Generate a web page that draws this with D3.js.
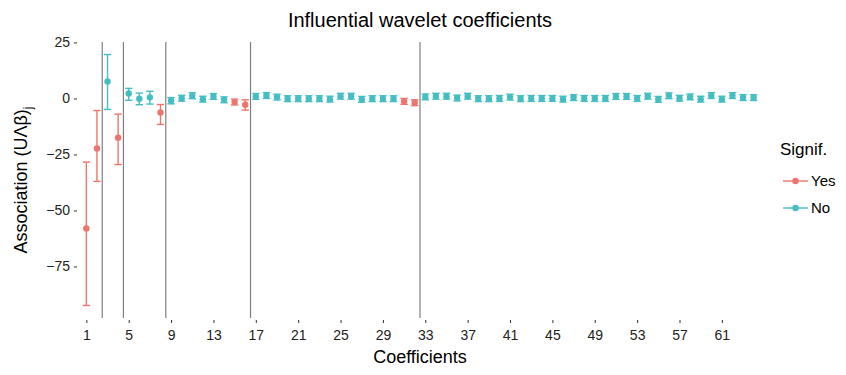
<!DOCTYPE html>
<html>
<head>
<meta charset="utf-8">
<script src="https://cdn.jsdelivr.net/npm/d3@7"></script>
<style>
  body { margin: 0; background: #fff; }
  text { font-family: "Liberation Sans", Arial, sans-serif; }
</style>
</head>
<body>
<script>
// coefficient index 1..64
const coefs = d3.range(1, 65)
const estimates = [
  -58, -22.3, 7.6, -17.5, 2.2, -0.1, 0.5, -6.3,
  -1.0, 0.1, 1.2, -0.3, 0.9, -0.6, -1.6, -2.8,
  0.9, 1.3, 0.6, -0.1, -0.1, -0.1, -0.1, -0.3, 1.0, 1.0, -0.4, -0.1, -0.1, -0.1, -1.3, -1.9,
  0.7, 1.0, 1.0, 0.2, 1.0, -0.1, -0.1, 0.0, 0.6, -0.1, 0.0, 0.0, 0.0, -0.3, 0.4, 0.0,
  0.0, 0.0, 0.9, 0.9, 0.0, 1.0, -0.4, 1.2, 0.1, 0.7, -0.3, 1.3, -0.3, 1.3, 0.4, 0.4
]
const lower = [
  -92.4, -37, -4.9, -29.5, -0.8, -2.8, -2.5, -11.6,
  -2.4, -1.2, -0.1, -1.6, -0.4, -1.9, -2.9, -5.2,
  -0.4, 0.0, -0.7, -1.4, -1.4, -1.4, -1.4, -1.6, -0.3, -0.3, -1.7, -1.4, -1.4, -1.4, -2.6, -3.2,
  -0.6, -0.3, -0.3, -1.1, -0.3, -1.4, -1.4, -1.3, -0.7, -1.4, -1.3, -1.3, -1.3, -1.6, -0.9, -1.3,
  -1.3, -1.3, -0.4, -0.4, -1.3, -0.3, -1.7, -0.1, -1.2, -0.6, -1.6, 0.0, -1.6, 0.0, -0.9, -0.9
]
const upper = [
  -28.4, -5.4, 19.6, -7, 4.5, 2.4, 3.2, -2.7,
  0.4, 1.4, 2.5, 1.0, 2.2, 0.7, -0.3, -0.6,
  2.2, 2.6, 1.9, 1.2, 1.2, 1.2, 1.2, 1.0, 2.3, 2.3, 0.9, 1.2, 1.2, 1.2, 0.0, -0.6,
  2.0, 2.3, 2.3, 1.5, 2.3, 1.2, 1.2, 1.3, 1.9, 1.2, 1.3, 1.3, 1.3, 1.0, 1.7, 1.3,
  1.3, 1.3, 2.2, 2.2, 1.3, 2.3, 0.9, 2.5, 1.4, 2.0, 1.0, 2.6, 1.0, 2.6, 1.7, 1.7
]
const signifCoefs = [1, 2, 4, 8, 15, 16, 31, 32]
const levelBreaks = [2.5, 4.5, 8.5, 16.5, 32.5]
const xTicks = d3.range(1, 65, 4)
const yTicks = [25, 0, -25, -50, -75]

const colors = { Yes: '#ee756d', No: '#45bec3' }

const W = 846, H = 375
const margin = { top: 42, right: 86, bottom: 57, left: 80 }

const svg = d3.select('body').append('svg')
  .attr('width', W)
  .attr('height', H)

const x = d3.scaleLinear().domain([0.4, 64.6]).range([margin.left, W - margin.right])
const y = d3.scaleLinear().domain([-98, 25.2]).range([H - margin.bottom, margin.top])

const data = coefs.map((c, i) => ({
  c, est: estimates[i], lo: lower[i], hi: upper[i],
  sig: signifCoefs.includes(c) ? 'Yes' : 'No'
}))

// title
svg.append('text')
  .attr('x', (x.range()[0] + x.range()[1]) / 2)
  .attr('y', 27)
  .attr('text-anchor', 'middle')
  .style('font-size', '20px')
  .text('Influential wavelet coefficients')

// axes
const yAxis = svg.append('g')
  .attr('transform', `translate(${margin.left - 3},0)`)
  .call(d3.axisLeft(y).tickValues(yTicks).tickSize(3).tickPadding(4))
yAxis.select('.domain').remove()
yAxis.selectAll('text').style('font-size', '14px').attr('fill', '#222')
yAxis.selectAll('line').attr('stroke', '#333')

const xAxis = svg.append('g')
  .attr('transform', `translate(0,${H - margin.bottom + 2})`)
  .call(d3.axisBottom(x).tickValues(xTicks).tickSize(3).tickPadding(7))
xAxis.select('.domain').remove()
xAxis.selectAll('text').style('font-size', '14px').attr('fill', '#222')
xAxis.selectAll('line').attr('stroke', '#333')

// axis titles
svg.append('text')
  .attr('x', (x.range()[0] + x.range()[1]) / 2)
  .attr('y', 363)
  .attr('text-anchor', 'middle')
  .style('font-size', '18px')
  .text('Coefficients')

const yl = svg.append('text')
  .attr('transform', `translate(27,${(y.range()[0] + y.range()[1]) / 2}) rotate(-90)`)
  .attr('text-anchor', 'middle')
  .style('font-size', '18px')
yl.append('tspan').text('Association (UΛβ)')
yl.append('tspan').attr('dy', 5).style('font-size', '12px').text('j')

// level boundaries
svg.append('g').selectAll('line')
  .data(levelBreaks)
  .join('line')
  .attr('x1', d => x(d)).attr('x2', d => x(d))
  .attr('y1', y.range()[1]).attr('y2', y.range()[0])
  .attr('stroke', '#7f7f7f')
  .attr('stroke-width', 1.2)

// error bars
const capW = x(0.35) - x(0)
const eb = svg.append('g').selectAll('g')
  .data(data)
  .join('g')
  .attr('stroke', d => colors[d.sig])
  .attr('stroke-width', 1.4)
eb.append('line')
  .attr('x1', d => x(d.c)).attr('x2', d => x(d.c))
  .attr('y1', d => y(d.lo)).attr('y2', d => y(d.hi))
eb.append('line')
  .attr('x1', d => x(d.c) - capW).attr('x2', d => x(d.c) + capW)
  .attr('y1', d => y(d.lo)).attr('y2', d => y(d.lo))
eb.append('line')
  .attr('x1', d => x(d.c) - capW).attr('x2', d => x(d.c) + capW)
  .attr('y1', d => y(d.hi)).attr('y2', d => y(d.hi))

svg.append('g').selectAll('circle')
  .data(data)
  .join('circle')
  .attr('cx', d => x(d.c))
  .attr('cy', d => y(d.est))
  .attr('r', 3.2)
  .attr('fill', d => colors[d.sig])

// legend
const lg = svg.append('g').attr('transform', 'translate(780,0)')
lg.append('text').attr('x', 0).attr('y', 155)
  .style('font-size', '17px').text('Signif.')
const items = ['Yes', 'No']
items.forEach((k, i) => {
  const cy = 181 + i * 27
  lg.append('line').attr('x1', 3).attr('x2', 28).attr('y1', cy).attr('y2', cy)
    .attr('stroke', colors[k]).attr('stroke-width', 1.4)
  lg.append('circle').attr('cx', 15.5).attr('cy', cy).attr('r', 3.2).attr('fill', colors[k])
  lg.append('text').attr('x', 31).attr('y', cy + 5)
    .style('font-size', '15px').text(k)
})
</script>
</body>
</html>
